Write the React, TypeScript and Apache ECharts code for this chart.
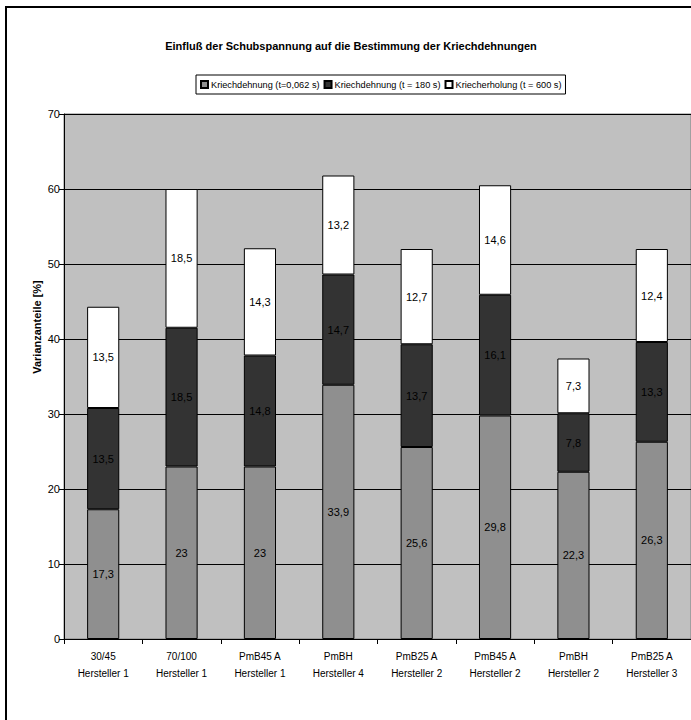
import React, { useEffect, useRef } from "react";
import * as echarts from "echarts";

const categories = [
  "30/45\nHersteller 1",
  "70/100\nHersteller 1",
  "PmB45 A\nHersteller 1",
  "PmBH\nHersteller 4",
  "PmB25 A\nHersteller 2",
  "PmB45 A\nHersteller 2",
  "PmBH\nHersteller 2",
  "PmB25 A\nHersteller 3",
];
const kriech0062 = [17.3, 23, 23, 33.9, 25.6, 29.8, 22.3, 26.3];
const kriech180 = [13.5, 18.5, 14.8, 14.7, 13.7, 16.1, 7.8, 13.3];
const erholung600 = [13.5, 18.5, 14.3, 13.2, 12.7, 14.6, 7.3, 12.4];
const seriesNames = [
  "Kriechdehnung (t=0,062 s)",
  "Kriechdehnung (t = 180 s)",
  "Kriecherholung (t = 600 s)",
];

const FONT = "'Liberation Sans', Arial, sans-serif";

export default function App() {
  const ref = useRef<HTMLDivElement>(null);
  useEffect(() => {
    if (!ref.current) return;
    const chart = echarts.init(ref.current, null, { renderer: "svg" });
    const fmt = (p: any) => String(p.value).replace(".", ",");
    const mk = (name: string, data: number[], color: string) => ({
      name,
      type: "bar",
      stack: "total",
      data,
      barWidth: "41%",
      itemStyle: { color, borderColor: "#000", borderWidth: 1 },
      label: {
        show: true,
        position: "inside",
        formatter: fmt,
        color: "#000",
        fontFamily: FONT,
        fontSize: 11,
      },
    });
    chart.setOption({
      animation: false,
      backgroundColor: "#fff",
      textStyle: { fontFamily: FONT },
      title: {
        text: "Einfluß der Schubspannung auf die Bestimmung der Kriechdehnungen",
        left: 346,
        textAlign: "center",
        top: 35,
        textStyle: { fontSize: 11, fontWeight: "bold", color: "#000", fontFamily: FONT },
      },
      legend: {
        top: 75,
        left: 196,
        itemWidth: 7,
        itemHeight: 7,
        itemGap: 4,
        padding: [5, 4, 5, 4],
        borderColor: "#000",
        borderWidth: 1,
        textStyle: { fontSize: 9.2, color: "#000", fontFamily: FONT, padding: [0, 0, 0, -2] },
        icon: "rect",
        data: seriesNames,
      },
      grid: {
        left: 64,
        top: 114,
        width: 628,
        height: 525,
        show: true,
        backgroundColor: "#c0c0c0",
        borderColor: "#808080",
        borderWidth: 1,
      },
      xAxis: {
        type: "category",
        data: categories,
        axisLine: { lineStyle: { color: "#000" } },
        axisTick: { show: true, length: 5, lineStyle: { color: "#000" } },
        axisLabel: {
          color: "#000",
          fontSize: 10,
          lineHeight: 17,
          margin: 9,
          fontFamily: FONT,
        },
      },
      yAxis: {
        type: "value",
        min: 0,
        max: 70,
        interval: 10,
        axisLine: { show: true, lineStyle: { color: "#000" } },
        axisTick: { show: true, length: 5, lineStyle: { color: "#000" } },
        axisLabel: { color: "#000", fontSize: 11, margin: 4, fontFamily: FONT },
        splitLine: { show: true, lineStyle: { color: "#000", width: 1 } },
      },
      graphic: [
        {
          type: "rect",
          shape: { x: 6, y: 7, width: 720, height: 740 },
          style: { fill: "none", stroke: "#000", lineWidth: 2 },
          silent: true,
        },
        {
          type: "text",
          x: 37,
          y: 327,
          rotation: Math.PI / 2,
          style: {
            text: "Varianzanteile [%]",
            fontSize: 11,
            fontWeight: "bold",
            fill: "#000",
            fontFamily: FONT,
            align: "center",
            verticalAlign: "middle",
          },
        },
      ],
      series: [
        mk(seriesNames[0], kriech0062, "#8f8f8f"),
        mk(seriesNames[1], kriech180, "#333333"),
        mk(seriesNames[2], erholung600, "#ffffff"),
      ],
    });
    return () => chart.dispose();
  }, []);
  return (
    <div
      ref={ref}
      style={{ position: "absolute", left: 0, top: 0, width: 691, height: 720 }}
    />
  );
}
